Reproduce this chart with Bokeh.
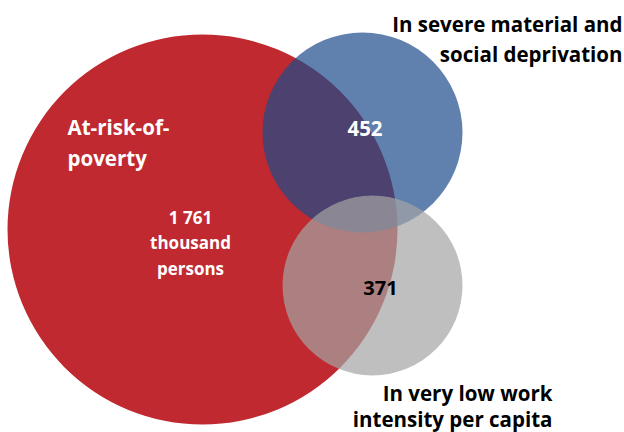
from bokeh.plotting import figure
from bokeh.models import Range1d, ColumnDataSource
from bokeh.core.properties import value
from bokeh.embed import file_html
from bokeh.resources import INLINE

# ---- data ----
set_names = ["At-risk-of-poverty",
             "In severe material and social deprivation",
             "In very low work intensity per capita"]
set_values = [1761, 452, 371]          # thousand persons
value_unit = "thousand persons"

# ---- layout (pixel space) ----
W, H = 624, 432
circle_x = [202, 362, 372]
circle_y = [229, 132, 285]
circle_r = [195, 100, 90]
circle_color = ["#C0292F", "#1C4C8C", "#A4A4A4"]
circle_alpha = [1.0, 0.7, 0.7]

FONT = value("Open Sans")
DY = -7  # baseline correction

p = figure(width=W, height=H, output_backend="svg", toolbar_location=None,
           x_range=Range1d(0, W), y_range=Range1d(H, 0), min_border=0)
p.axis.visible = False
p.grid.visible = False
p.outline_line_color = None
p.background_fill_color = "white"
p.border_fill_color = "white"

for cx, cy, r, c, a in zip(circle_x, circle_y, circle_r, circle_color, circle_alpha):
    p.circle(x=[cx], y=[cy], radius=r, fill_color=c, fill_alpha=a, line_color=None)

def fmt(v):
    return f"{v:,}".replace(",", " ")

def lines(xs, ys, texts, color, size, align):
    src = ColumnDataSource(dict(x=xs, y=[y + DY for y in ys], t=texts))
    p.text(x="x", y="y", text="t", source=src, text_font=FONT, text_font_style="bold",
           text_font_size=size, text_color=color, text_align=align,
           text_baseline="alphabetic")

# At-risk-of-poverty label
lines([67, 67], [133, 164], ["At-risk-of-", "poverty"], "white", "20.5px", "left")
# main value
lines([190, 190, 190], [224, 249, 275],
      [fmt(set_values[0]), value_unit.split()[0], value_unit.split()[1]],
      "white", "17px", "center")
# overlaps
lines([364.5], [135], [fmt(set_values[1])], "white", "20.5px", "center")
lines([380], [294], [fmt(set_values[2])], "black", "20px", "center")
# set labels
lines([622, 622], [30, 60], ["In severe material and", "social deprivation"], "black", "20.5px", "right")
lines([552, 552], [399, 425], ["In very low work", "intensity per capita"], "black", "20.5px", "right")

open("out.html", "w").write(file_html(p, INLINE))
